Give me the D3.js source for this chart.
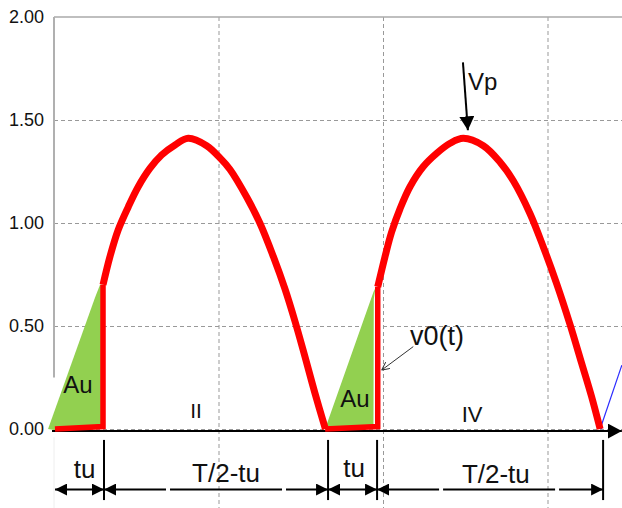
<!DOCTYPE html>
<html>
<head>
<meta charset="utf-8">
<script src="https://cdn.jsdelivr.net/npm/d3@7"></script>
<style>
	body { margin: 0; background: #fff; }
	text { font-family: "Liberation Sans", Arial, sans-serif; fill: #111; }
</style>
</head>
<body>
<svg id="chart"></svg>
<script>
// y ticks and x grid (ms)
var yTicks = [0, 0.5, 1, 1.5, 2];
var yGrid = [0, 0.5, 1, 1.5];
var xGrid = [5, 10, 15];

// output voltage v0(t): conduction bits (flat + vertical jump) and the sine humps
var bottom1 = [[0.03, 0.0], [1.49, 0.012], [1.49, 0.70]];
var hump1 = [[1.49, 0.70], [1.70, 0.836], [1.95, 0.966], [2.26, 1.079], [2.56, 1.176], [2.92, 1.266], [3.27, 1.33], [3.68, 1.379], [4.08, 1.411], [4.64, 1.375], [5.05, 1.315], [5.35, 1.26], [5.86, 1.125], [6.26, 0.999], [6.67, 0.836], [7.02, 0.68], [7.33, 0.52], [7.63, 0.35], [7.93, 0.175], [8.25, 0.0]];
var bottom2 = [[8.24, 0.0], [9.84, 0.012], [9.84, 0.69]];
var hump2 = [[9.84, 0.69], [10.06, 0.836], [10.26, 0.955], [10.52, 1.07], [10.82, 1.176], [11.22, 1.273], [11.63, 1.338], [12.04, 1.387], [12.44, 1.411], [13.05, 1.375], [13.56, 1.295], [13.96, 1.205], [14.47, 1.045], [14.87, 0.885], [15.28, 0.705], [15.68, 0.51], [16.04, 0.318], [16.34, 0.157], [16.6, 0.0]];
var blueTail = [[16.6, 0.0], [17.26, 0.31]];

// Au areas (green)
var au1 = [[-0.18, 0.0], [1.25, 0.64], [1.40, 0.70], [1.49, 0.70], [1.49, 0.01], [0.18, -0.01]];
var au2 = [[8.24, 0.0], [9.71, 0.665], [9.77, 0.685], [9.72, 0.63], [9.71, 0.01], [8.39, 0.0]];

// dimension marks under the axis
var dimTicks = [1.52, 8.33, 9.82, 16.69];
var dimArrows = [[0.03, 1.52], [1.52, 8.33], [8.33, 9.82], [9.82, 16.69]];
var dimLabels = ["tu", "T/2-tu", "tu", "T/2-tu"];
var dimLabelT = [0.93, 5.23, 9.12, 13.43];
var dimLabelV = [-0.238, -0.257, -0.232, -0.26];

var W = 622, H = 508;
var svg = d3.select("#chart").attr("width", W).attr("height", H);
var x = d3.scaleLinear().domain([0, 15]).range([54, 547.5]);
var y = d3.scaleLinear().domain([0, 2]).range([429, 17]);

var defs = svg.append("defs");
defs.append("marker").attr("id", "arr").attr("viewBox", "0 0 12 12").attr("refX", 12).attr("refY", 6)
	.attr("markerWidth", 12).attr("markerHeight", 12).attr("markerUnits", "userSpaceOnUse").attr("orient", "auto-start-reverse")
	.append("path").attr("d", "M0,0L12,6L0,12Z").attr("fill", "#000");
defs.append("marker").attr("id", "arrBig").attr("viewBox", "0 0 14 15").attr("refX", 14).attr("refY", 7.5)
	.attr("markerWidth", 14).attr("markerHeight", 15).attr("markerUnits", "userSpaceOnUse").attr("orient", "auto")
	.append("path").attr("d", "M0,0L14,7.5L0,15Z").attr("fill", "#000");
defs.append("marker").attr("id", "arrSmall").attr("viewBox", "0 0 8 8").attr("refX", 8).attr("refY", 4)
	.attr("markerWidth", 8).attr("markerHeight", 8).attr("markerUnits", "userSpaceOnUse").attr("orient", "auto")
	.append("path").attr("d", "M0,0L8,4L0,8").attr("fill", "none").attr("stroke", "#333").attr("stroke-width", 1);

// grid
var gy = svg.append("g").attr("transform", "translate(" + x(0) + ",0)")
	.call(d3.axisLeft(y).tickValues(yGrid).tickSize(-(W - x(0))).tickFormat(""));
gy.select(".domain").remove();
gy.selectAll("line").attr("stroke", "#999").attr("stroke-dasharray", "4,3");

var gx = svg.append("g").attr("transform", "translate(0," + y(2) + ")")
	.call(d3.axisTop(x).tickValues(xGrid).tickSize(-(H - y(2))).tickFormat(""));
gx.select(".domain").remove();
gx.selectAll("line").attr("stroke", "#999").attr("stroke-dasharray", "4,3");

// frame
svg.append("line").attr("x1", x(0)).attr("x2", W).attr("y1", y(2)).attr("y2", y(2)).attr("stroke", "#aaa").attr("stroke-width", 1.5);
svg.append("line").attr("x1", x(0)).attr("x2", x(0)).attr("y1", y(2)).attr("y2", y(0.25)).attr("stroke", "#b0b0b0").attr("stroke-width", 2);
svg.append("line").attr("x1", x(0)).attr("x2", x(0)).attr("y1", y(-0.04)).attr("y2", H).attr("stroke", "#eee").attr("stroke-width", 1);

// y labels
var ya = svg.append("g").attr("transform", "translate(" + x(0) + ",0)")
	.call(d3.axisLeft(y).tickValues(yTicks).tickFormat(d3.format(".2f")).tickSize(0).tickPadding(10));
ya.select(".domain").remove();
ya.selectAll("text").attr("font-size", 18).attr("font-family", "Liberation Sans, Arial, sans-serif").attr("fill", "#222");

var line = d3.line().x(function(d) { return x(d[0]); }).y(function(d) { return y(d[1]); });
var smooth = d3.line().x(function(d) { return x(d[0]); }).y(function(d) { return y(d[1]); }).curve(d3.curveCatmullRom.alpha(0.5));

// Au areas
[au1, au2].forEach(function(p) {
	svg.append("path").attr("d", line(p) + "Z").attr("fill", "#92d050");
});

// underlying source sine (blue)
[hump1, hump2].forEach(function(p) {
	svg.append("path").attr("d", smooth(p)).attr("fill", "none").attr("stroke", "#2b2bff").attr("stroke-width", 1.5)
		.attr("transform", "translate(1.5,0)");
});
svg.append("path").attr("d", line(blueTail)).attr("fill", "none").attr("stroke", "#2b2bff").attr("stroke-width", 1.2);

// x axis
svg.append("line").attr("x1", x(-0.06)).attr("x2", x(17.26)).attr("y1", y(-0.01)).attr("y2", y(-0.01))
	.attr("stroke", "#000").attr("stroke-width", 2).attr("marker-end", "url(#arrBig)");

// v0(t) red
[bottom1, bottom2].forEach(function(p) {
	svg.append("path").attr("d", line(p)).attr("fill", "none").attr("stroke", "#ff0000").attr("stroke-width", 5.5);
});
[hump1, hump2].forEach(function(p) {
	svg.append("path").attr("d", smooth(p)).attr("fill", "none").attr("stroke", "#ff0000").attr("stroke-width", 7);
});

// dimension ticks and arrows
svg.selectAll(".dimtick").data(dimTicks).enter().append("line")
	.attr("x1", function(d) { return x(d); }).attr("x2", function(d) { return x(d); })
	.attr("y1", y(-0.053)).attr("y2", y(-0.345)).attr("stroke", "#000").attr("stroke-width", 2);
svg.selectAll(".dimarr").data(dimArrows).enter().append("line")
	.attr("x1", function(d) { return x(d[0]); }).attr("x2", function(d) { return x(d[1]); })
	.attr("y1", y(-0.294)).attr("y2", y(-0.294)).attr("stroke", "#000").attr("stroke-width", 2)
	.attr("stroke-dasharray", function(d, i) { return i % 2 ? "62,4,112,4" : null; })
	.attr("marker-start", "url(#arr)").attr("marker-end", "url(#arr)");
svg.selectAll(".dimlab").data(dimLabels).enter().append("text")
	.attr("x", function(d, i) { return x(dimLabelT[i]); }).attr("y", function(d, i) { return y(dimLabelV[i]); })
	.attr("text-anchor", "middle").attr("font-size", 26).text(function(d) { return d; });

// region labels
svg.append("text").attr("x", x(0.73)).attr("y", y(0.175)).attr("text-anchor", "middle").attr("font-size", 24).text("Au");
svg.append("text").attr("x", x(9.15)).attr("y", y(0.108)).attr("text-anchor", "middle").attr("font-size", 24).text("Au");
svg.append("text").attr("x", x(4.32)).attr("y", y(0.053)).attr("text-anchor", "middle").attr("font-size", 21).text("II");
svg.append("text").attr("x", x(12.71)).attr("y", y(0.035)).attr("text-anchor", "middle").attr("font-size", 22).text("IV");

// v0(t) callout
svg.append("text").attr("x", x(10.82)).attr("y", y(0.408)).attr("font-size", 27).text("v0(t)");
svg.append("line").attr("x1", x(10.92)).attr("y1", y(0.40)).attr("x2", x(9.96)).attr("y2", y(0.286))
	.attr("stroke", "#333").attr("stroke-width", 1).attr("marker-end", "url(#arrSmall)");

// Vp callout
svg.append("line").attr("x1", x(12.43)).attr("y1", y(1.78)).attr("x2", x(12.58)).attr("y2", y(1.45))
	.attr("stroke", "#000").attr("stroke-width", 2).attr("marker-end", "url(#arrBig)");
svg.append("text").attr("x", x(12.58)).attr("y", y(1.646)).attr("font-size", 24).text("Vp");
</script>
</body>
</html>
